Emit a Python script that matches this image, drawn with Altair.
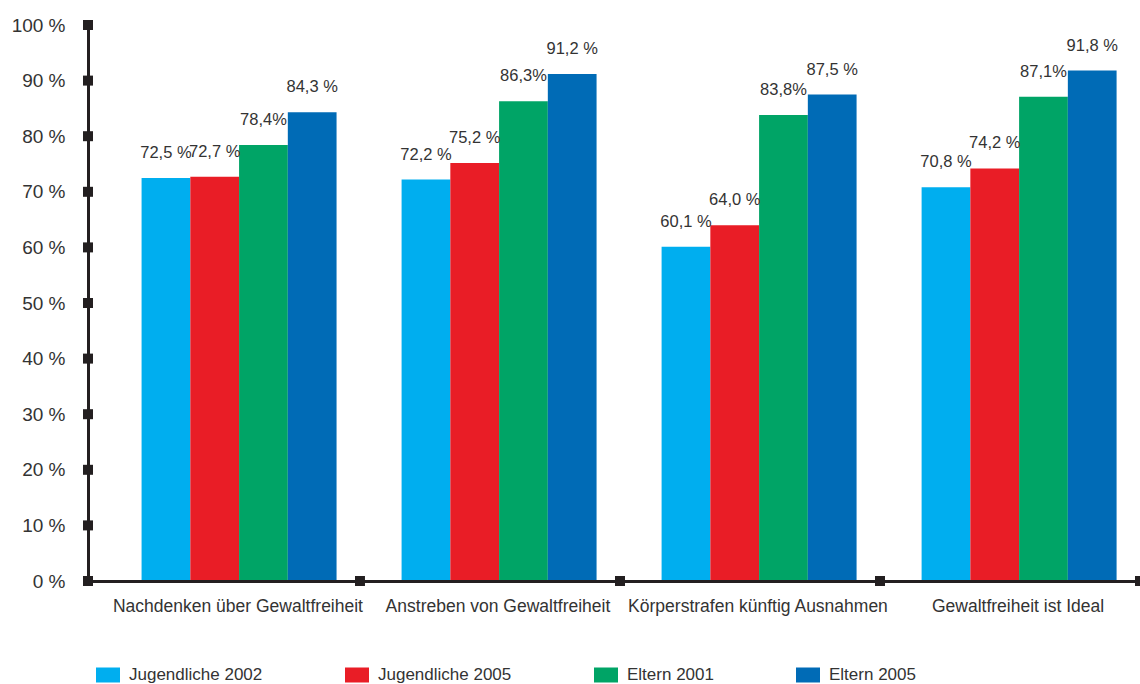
import altair as alt
import pandas as pd

categories = [
    "Nachdenken über Gewaltfreiheit",
    "Anstreben von Gewaltfreiheit",
    "Körperstrafen künftig Ausnahmen",
    "Gewaltfreiheit ist Ideal",
]
series = ["Jugendliche 2002", "Jugendliche 2005", "Eltern 2001", "Eltern 2005"]

jug2002 = [72.5, 72.2, 60.1, 70.8]
jug2005 = [72.7, 75.2, 64.0, 74.2]
elt2001 = [78.4, 86.3, 83.8, 87.1]
elt2005 = [84.3, 91.2, 87.5, 91.8]

jug2002_lbl = ["72,5 %", "72,2 %", "60,1 %", "70,8 %"]
jug2005_lbl = ["72,7 %", "75,2 %", "64,0 %", "74,2 %"]
elt2001_lbl = ["78,4%", "86,3%", "83,8%", "87,1%"]
elt2005_lbl = ["84,3 %", "91,2 %", "87,5 %", "91,8 %"]

yticks = [0, 10, 20, 30, 40, 50, 60, 70, 80, 90, 100]
colors = ["#00AEEF", "#E91D26", "#00A466", "#006BB6"]

FONT = "Liberation Sans, Arial, Helvetica, sans-serif"
TXT = "#333333"
DARK = "#231F20"

rows = []
for vals, lbls, s in zip([jug2002, jug2005, elt2001, elt2005],
                         [jug2002_lbl, jug2005_lbl, elt2001_lbl, elt2005_lbl], series):
    for c, v, l in zip(categories, vals, lbls):
        rows.append({"Kategorie": c, "Serie": s, "Wert": v, "Label": l})
df = pd.DataFrame(rows)


def make_x(bp=None):
    kw = {}
    if bp is not None:
        kw["bandPosition"] = bp
    return alt.X(
        "Kategorie:N",
        sort=categories,
        scale=alt.Scale(paddingInner=0, paddingOuter=0.023, align=1),
        axis=alt.Axis(
            title=None, labelAngle=0, ticks=False, domainColor=DARK, domainWidth=3,
            labelFontSize=17.5, labelFont=FONT, labelColor=TXT, labelPadding=16,
            labelOffset=8, labelLimit=0, zindex=1,
        ),
        **kw,
    )


y_enc = alt.Y(
    "Wert:Q",
    scale=alt.Scale(domain=[0, 100], nice=False, zero=True),
    axis=alt.Axis(
        title=None, values=yticks, labelExpr="datum.value + ' %'", grid=False,
        ticks=False, domainColor=DARK, domainWidth=3, labelFontSize=19,
        labelFont=FONT, labelColor=TXT, labelPadding=23, zindex=1,
    ),
)

x_off = alt.XOffset("Serie:N", sort=series,
                    scale=alt.Scale(paddingInner=0, paddingOuter=0.667, align=0.64))

color_enc = alt.Color(
    "Serie:N",
    sort=series,
    scale=alt.Scale(domain=series, range=colors),
    legend=alt.Legend(
        title=None, orient="none", legendX=8, legendY=638, direction="horizontal",
        symbolType="M-1,-0.625H1V0.625H-1Z", symbolSize=576, symbolStrokeWidth=0,
        symbolOpacity=1, labelFontSize=17, labelFont=FONT, labelColor=TXT,
        labelOffset=9, columnPadding=82, padding=0,
    ),
)

base = alt.Chart(df)
bars = base.mark_bar().encode(x=make_x(), xOffset=x_off, y=y_enc, color=color_enc)
texts = base.mark_text(dy=-20, baseline="alphabetic", fontSize=16.5, font=FONT,
                       color=TXT).encode(x=make_x(), xOffset=x_off, y=y_enc,
                                         text="Label:N")

ymarks = alt.Chart(pd.DataFrame({"Wert": yticks})).mark_square(
    size=100, color=DARK, opacity=1).encode(x=alt.value(0), y=y_enc)

bound_df = pd.DataFrame({"Kategorie": categories[1:], "Wert": [0] * 3})
last_df = pd.DataFrame({"Kategorie": categories[-1:], "Wert": [0]})
xmarks1 = alt.Chart(bound_df).mark_square(size=100, color=DARK, opacity=1).encode(
    x=make_x(0), y=y_enc)
xmarks2 = alt.Chart(last_df).mark_square(size=100, color=DARK, opacity=1).encode(
    x=make_x(1), y=y_enc)

chart = alt.layer(bars, texts, ymarks, xmarks1, xmarks2).properties(
    width=1052, height=556,
    padding={"left": 88, "top": 25, "right": 0, "bottom": 103},
    autosize=alt.AutoSizeParams(type="none"),
    background="white",
).configure_view(stroke=None)

chart.save("out.html", embed_options={"renderer": "svg", "actions": False})
